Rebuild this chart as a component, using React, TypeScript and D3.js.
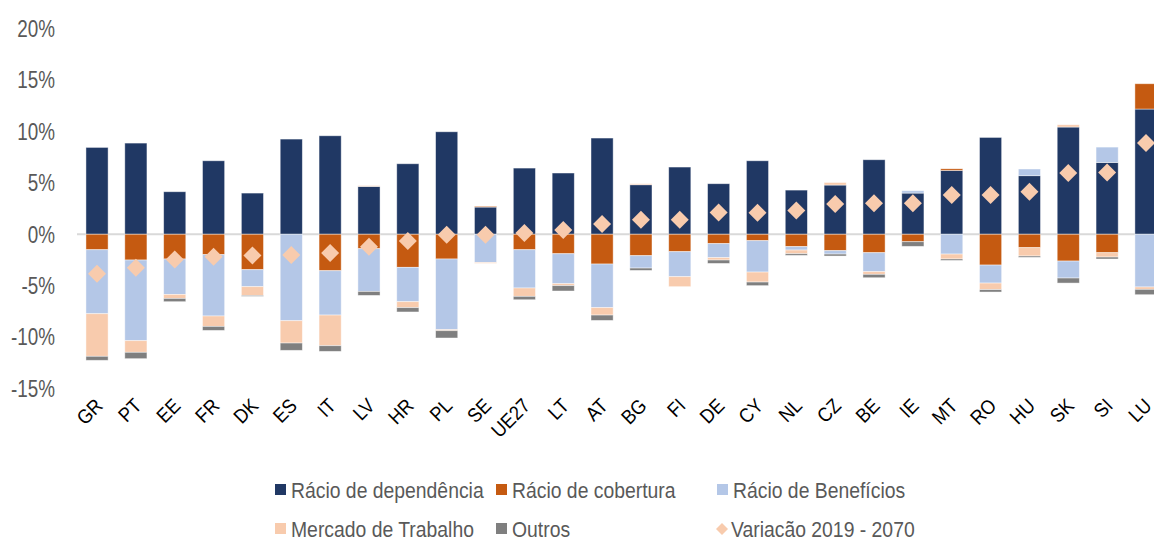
import { useEffect } from 'react';
import * as d3 from 'd3';

const categories = ['GR', 'PT', 'EE', 'FR', 'DK', 'ES', 'IT', 'LV', 'HR', 'PL', 'SE', 'UE27', 'LT', 'AT', 'BG', 'FI', 'DE', 'CY', 'NL', 'CZ', 'BE', 'IE', 'MT', 'RO', 'HU', 'SK', 'SI', 'LU'];

const dependencia = [8.44, 8.86, 4.13, 7.14, 4.0, 9.25, 9.57, 4.65, 6.85, 9.96, 2.64, 6.43, 5.95, 9.35, 4.81, 6.53, 4.91, 7.14, 4.29, 4.78, 7.24, 4.0, 6.2, 9.41, 5.69, 10.42, 6.98, 12.17];
const cobertura = [-1.51, -2.51, -2.41, -1.99, -3.45, 0, -3.55, -1.41, -3.22, -2.41, 0.08, -1.51, -1.9, -2.9, -2.09, -1.7, -0.92, -0.63, -1.21, -1.6, -1.8, -0.73, 0.16, -3.0, -1.31, -2.61, -1.8, 2.46];
const beneficios = [-6.22, -7.84, -3.44, -5.96, -1.65, -8.41, -4.31, -4.15, -3.34, -6.87, -2.74, -3.72, -2.91, -4.24, -1.2, -2.43, -1.36, -3.05, -0.33, -0.33, -1.84, 0.23, -1.93, -1.75, 0.65, -1.65, 1.49, -5.13];
const mercado = [-4.14, -1.13, -0.39, -1.01, -0.85, -2.17, -2.98, 0.08, -0.58, -0.1, -0.09, -0.81, -0.19, -0.72, 0.1, -0.97, -0.23, -0.97, -0.36, 0.25, -0.26, 0, -0.48, -0.64, -0.81, 0.22, -0.42, -0.23];
const outros = [-0.39, -0.62, -0.32, -0.39, -0.09, -0.71, -0.55, -0.39, -0.42, -0.71, 0, -0.33, -0.52, -0.52, -0.23, 0, -0.33, -0.35, -0.16, -0.19, -0.33, -0.45, -0.14, -0.23, -0.13, -0.49, -0.19, -0.52];
const variacao = [-3.84, -3.26, -2.45, -2.19, -2.06, -2.03, -1.83, -1.21, -0.66, -0.05, -0.05, 0.12, 0.41, 0.99, 1.41, 1.41, 2.12, 2.09, 2.31, 2.93, 3.0, 3.0, 3.81, 3.81, 4.13, 5.95, 6.01, 8.86];

const yTicks = [-15, -10, -5, 0, 5, 10, 15, 20];

const seriesKeys = ['dep', 'cob', 'ben', 'mer', 'out'];
const seriesNames = ['Rácio de dependência', 'Rácio de cobertura', 'Rácio de Benefícios', 'Mercado de Trabalho', 'Outros'];
const seriesColors = ['#203864', '#C55A11', '#B4C7E7', '#F8CBAD', '#7F7F7F'];

const FONT = '"Liberation Sans", Arial, sans-serif';

export default function App() {
  useEffect(() => {
    document.body.style.margin = '0';
  }, []);

  const width = 1154;
  const height = 541;

  const rows = categories.map((c, i) => ({
    cat: c,
    dep: dependencia[i],
    cob: cobertura[i],
    ben: beneficios[i],
    mer: mercado[i],
    out: outros[i],
  }));

  const stacked = d3.stack<any>()
    .keys(seriesKeys)
    .offset(d3.stackOffsetDiverging)(rows);

  const x = d3.scaleBand()
    .domain(categories)
    .range([77.6, 1165.4])
    .paddingInner(0.43)
    .paddingOuter(0.215);

  const y = d3.scaleLinear().domain([-15, 20]).range([388.5, 28.5]);

  const diamond = 'M0,-9L9,0L0,9L-9,0Z';

  // legend layout
  const row1 = 490;
  const row2 = 529;
  const legendItems = [
    { i: 0, x: 275, y: row1 },
    { i: 1, x: 496, y: row1 },
    { i: 2, x: 717, y: row1 },
    { i: 3, x: 275, y: row2 },
    { i: 4, x: 496, y: row2 },
  ];

  return (
    <svg width={width} height={height} style={{ display: 'block', background: '#fff' }} fontFamily={FONT}>
      {/* zero line */}
      <line x1={77} x2={width} y1={y(0)} y2={y(0)} stroke="#D9D9D9" strokeWidth={2} />

      {/* y ticks (condensed look) */}
      {yTicks.map(t => (
        <text
          key={t}
          transform={`translate(55,${y(t)}) scale(0.82,1)`}
          dy="0.36em"
          textAnchor="end"
          fontSize={23}
          fill="#595959"
        >
          {t}%
        </text>
      ))}

      {/* stacked bars */}
      {stacked.map((s, si) => (
        <g key={s.key} fill={seriesColors[si]}>
          {s.map((d, i) => {
            const h = Math.abs(y(d[0]) - y(d[1]));
            if (h < 0.01) return null;
            return (
              <rect
                key={i}
                x={x(categories[i])}
                y={Math.min(y(d[0]), y(d[1]))}
                width={x.bandwidth()}
                height={h}
                stroke="#ffffff"
                strokeOpacity={0.55}
                strokeWidth={0.8}
              />
            );
          })}
        </g>
      ))}

      {/* diamonds */}
      {variacao.map((v, i) => (
        <path
          key={i}
          d={diamond}
          transform={`translate(${x(categories[i])! + x.bandwidth() / 2},${y(v)})`}
          fill="#F8CBAD"
        />
      ))}

      {/* x labels */}
      {categories.map(c => (
        <text
          key={c}
          transform={`translate(${x(c)! + x.bandwidth() / 2 + 7},407) rotate(-45) scale(0.9,1)`}
          textAnchor="end"
          fontSize={20}
          fill="#000"
        >
          {c}
        </text>
      ))}

      {/* legend */}
      {legendItems.map(l => (
        <g key={l.i}>
          <rect x={l.x} y={l.y - 6} width={11} height={11} fill={seriesColors[l.i]} />
          <text
            transform={`translate(${l.x + 16},${l.y}) scale(0.88,1)`}
            dy="0.36em"
            fontSize={22}
            fill="#595959"
          >
            {seriesNames[l.i]}
          </text>
        </g>
      ))}
      <path d="M0,-6L6,0L0,6L-6,0Z" transform={`translate(722,${row2})`} fill="#F8CBAD" />
      <text transform={`translate(731,${row2}) scale(0.88,1)`} dy="0.36em" fontSize={22} fill="#595959">
        Variacão 2019 - 2070
      </text>
    </svg>
  );
}
